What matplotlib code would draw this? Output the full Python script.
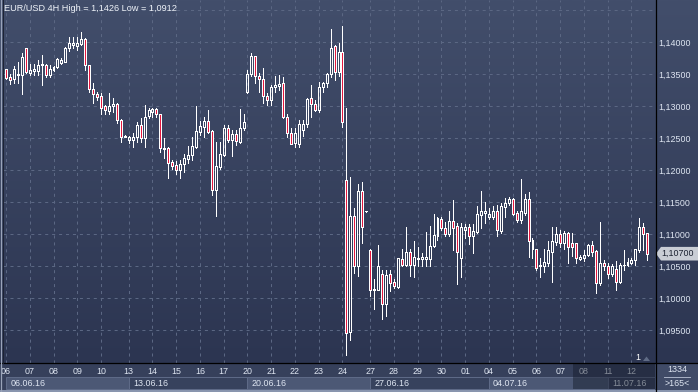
import numpy as np
import matplotlib
matplotlib.use("Agg")
import matplotlib.pyplot as plt
from matplotlib.patches import Rectangle, Polygon
from matplotlib.colors import LinearSegmentedColormap

plt.rcParams['font.family'] = ['Liberation Sans', 'DejaVu Sans']
plt.rcParams['lines.scale_dashes'] = False

# ---------------- data (EUR/USD 4H candles) ----------------
opens = [1.1358, 1.1346, 1.1343, 1.1349, 1.1349, 1.1391, 1.1353, 1.1356, 1.1356, 1.1365,
         1.1365, 1.1349, 1.1357, 1.1361, 1.1368, 1.1370, 1.1392, 1.1396, 1.1395, 1.1398,
         1.1405, 1.1365, 1.1328, 1.1319, 1.1317, 1.1300, 1.1293, 1.1300, 1.1304, 1.1279,
         1.1253, 1.1247, 1.1247, 1.1252, 1.1271, 1.1250, 1.1285, 1.1292, 1.1296, 1.1288,
         1.1234, 1.1235, 1.1213, 1.1209, 1.1201, 1.1210, 1.1218, 1.1224, 1.1237, 1.1260,
         1.1268, 1.1277, 1.1261, 1.1170, 1.1206, 1.1224, 1.1267, 1.1248, 1.1257, 1.1245,
         1.1266, 1.1323, 1.1351, 1.1379, 1.1348, 1.1343, 1.1316, 1.1310, 1.1331, 1.1332,
         1.1336, 1.1284, 1.1258, 1.1243, 1.1242, 1.1263, 1.1273, 1.1313, 1.1304, 1.1295,
         1.1331, 1.1336, 1.1351, 1.1395, 1.1354, 1.1385, 1.1185, 1.0947, 1.1129, 1.1051,
         1.1168, 1.1136, 1.1076, 1.1014, 1.1014, 1.1038, 1.0991, 1.1039, 1.1025, 1.1018,
         1.1062, 1.1052, 1.1073, 1.1052, 1.1064, 1.1061, 1.1061, 1.1061, 1.1082, 1.1098,
         1.1124, 1.1110, 1.1101, 1.1121, 1.1113, 1.1063, 1.1107, 1.1111, 1.1098, 1.1104,
         1.1130, 1.1134, 1.1127, 1.1128, 1.1136, 1.1105, 1.1143, 1.1149, 1.1155, 1.1134,
         1.1123, 1.1134, 1.1155, 1.1091, 1.1077, 1.1050, 1.1051, 1.1056, 1.1073, 1.1089,
         1.1101, 1.1087, 1.1102, 1.1086, 1.1086, 1.1062, 1.1063, 1.1068, 1.1084, 1.1074,
         1.1024, 1.1055, 1.1051, 1.1038, 1.1046, 1.1025, 1.1052, 1.1052, 1.1056, 1.1060,
         1.1076, 1.1112, 1.1102]
highs = [1.1359, 1.1350, 1.1364, 1.1369, 1.1384, 1.1391, 1.1367, 1.1367, 1.1373, 1.1380,
         1.1367, 1.1365, 1.1363, 1.1375, 1.1376, 1.1393, 1.1409, 1.1409, 1.1408, 1.1417,
         1.1407, 1.1365, 1.1336, 1.1323, 1.1321, 1.1302, 1.1321, 1.1313, 1.1306, 1.1280,
         1.1255, 1.1254, 1.1258, 1.1275, 1.1282, 1.1302, 1.1298, 1.1297, 1.1297, 1.1289,
         1.1250, 1.1237, 1.1216, 1.1215, 1.1216, 1.1226, 1.1239, 1.1252, 1.1300, 1.1278,
         1.1284, 1.1295, 1.1263, 1.1245, 1.1245, 1.1271, 1.1271, 1.1263, 1.1263, 1.1296,
         1.1289, 1.1357, 1.1384, 1.1379, 1.1352, 1.1360, 1.1321, 1.1334, 1.1347, 1.1349,
         1.1346, 1.1288, 1.1266, 1.1266, 1.1279, 1.1279, 1.1314, 1.1334, 1.1310, 1.1339,
         1.1339, 1.1353, 1.1421, 1.1396, 1.1399, 1.1426, 1.1297, 1.1190, 1.1142, 1.1179,
         1.1182, 1.1137, 1.1077, 1.1031, 1.1084, 1.1045, 1.1045, 1.1045, 1.1031, 1.1064,
         1.1078, 1.1112, 1.1078, 1.1090, 1.1081, 1.1071, 1.1104, 1.1113, 1.1132, 1.1127,
         1.1127, 1.1120, 1.1136, 1.1154, 1.1118, 1.1118, 1.1116, 1.1116, 1.1116, 1.1145,
         1.1168, 1.1150, 1.1142, 1.1145, 1.1146, 1.1149, 1.1157, 1.1159, 1.1157, 1.1137,
         1.1186, 1.1164, 1.1167, 1.1094, 1.1077, 1.1064, 1.1078, 1.1090, 1.1112, 1.1112,
         1.1107, 1.1106, 1.1104, 1.1102, 1.1087, 1.1068, 1.1075, 1.1085, 1.1090, 1.1076,
         1.1120, 1.1060, 1.1055, 1.1054, 1.1058, 1.1056, 1.1075, 1.1064, 1.1064, 1.1078,
         1.1125, 1.1118, 1.1102]
lows = [1.1343, 1.1335, 1.1336, 1.1336, 1.1320, 1.1353, 1.1349, 1.1349, 1.1349, 1.1334,
        1.1346, 1.1346, 1.1355, 1.1360, 1.1366, 1.1369, 1.1386, 1.1391, 1.1389, 1.1396,
        1.1357, 1.1323, 1.1305, 1.1310, 1.1289, 1.1289, 1.1289, 1.1292, 1.1274, 1.1245,
        1.1252, 1.1243, 1.1237, 1.1245, 1.1245, 1.1237, 1.1282, 1.1284, 1.1284, 1.1229,
        1.1220, 1.1189, 1.1202, 1.1194, 1.1189, 1.1198, 1.1211, 1.1217, 1.1235, 1.1255,
        1.1253, 1.1258, 1.1162, 1.1129, 1.1203, 1.1222, 1.1245, 1.1223, 1.1240, 1.1243,
        1.1263, 1.1321, 1.1347, 1.1336, 1.1323, 1.1305, 1.1302, 1.1302, 1.1323, 1.1325,
        1.1282, 1.1253, 1.1241, 1.1237, 1.1237, 1.1254, 1.1268, 1.1284, 1.1293, 1.1292,
        1.1323, 1.1331, 1.1346, 1.1341, 1.1347, 1.1268, 1.0912, 1.0935, 1.1040, 1.1035,
        1.1086, 1.1135, 1.1004, 1.0984, 1.1013, 1.0968, 1.0972, 1.1011, 1.1017, 1.1017,
        1.1050, 1.1051, 1.1035, 1.1034, 1.1051, 1.1050, 1.1051, 1.1051, 1.1080, 1.1091,
        1.1107, 1.1098, 1.1098, 1.1075, 1.1023, 1.1034, 1.1094, 1.1085, 1.1071, 1.1103,
        1.1110, 1.1118, 1.1124, 1.1124, 1.1098, 1.1102, 1.1128, 1.1146, 1.1130, 1.1120,
        1.1118, 1.1130, 1.1065, 1.1063, 1.1044, 1.1034, 1.1042, 1.1050, 1.1026, 1.1084,
        1.1081, 1.1077, 1.1056, 1.1066, 1.1055, 1.1060, 1.1058, 1.1066, 1.1066, 1.1009,
        1.1021, 1.1044, 1.1032, 1.1035, 1.1014, 1.1024, 1.1044, 1.1050, 1.1054, 1.1052,
        1.1073, 1.1076, 1.1060]
closes = [1.1345, 1.1342, 1.1359, 1.1351, 1.1378, 1.1354, 1.1357, 1.1358, 1.1365, 1.1366,
          1.1349, 1.1358, 1.1361, 1.1374, 1.1372, 1.1392, 1.1399, 1.1399, 1.1399, 1.1405,
          1.1365, 1.1328, 1.1320, 1.1315, 1.1297, 1.1295, 1.1300, 1.1304, 1.1279, 1.1252,
          1.1254, 1.1252, 1.1252, 1.1271, 1.1250, 1.1283, 1.1295, 1.1296, 1.1288, 1.1235,
          1.1235, 1.1212, 1.1207, 1.1201, 1.1210, 1.1219, 1.1224, 1.1238, 1.1261, 1.1270,
          1.1277, 1.1260, 1.1170, 1.1207, 1.1226, 1.1267, 1.1248, 1.1257, 1.1246, 1.1266,
          1.1276, 1.1351, 1.1379, 1.1347, 1.1343, 1.1316, 1.1310, 1.1331, 1.1333, 1.1335,
          1.1284, 1.1258, 1.1242, 1.1258, 1.1273, 1.1273, 1.1311, 1.1304, 1.1295, 1.1331,
          1.1336, 1.1351, 1.1392, 1.1354, 1.1385, 1.1276, 1.0946, 1.1129, 1.1051, 1.1168,
          1.1112, 1.1136, 1.1014, 1.1015, 1.1051, 1.0991, 1.1037, 1.1024, 1.1020, 1.1063,
          1.1052, 1.1073, 1.1052, 1.1065, 1.1061, 1.1065, 1.1065, 1.1082, 1.1099, 1.1125,
          1.1110, 1.1101, 1.1121, 1.1110, 1.1072, 1.1112, 1.1112, 1.1098, 1.1105, 1.1132,
          1.1136, 1.1137, 1.1132, 1.1136, 1.1107, 1.1145, 1.1149, 1.1155, 1.1132, 1.1122,
          1.1136, 1.1155, 1.1090, 1.1077, 1.1047, 1.1052, 1.1057, 1.1075, 1.1090, 1.1101,
          1.1087, 1.1102, 1.1081, 1.1081, 1.1064, 1.1065, 1.1068, 1.1084, 1.1073, 1.1024,
          1.1055, 1.1050, 1.1038, 1.1050, 1.1025, 1.1053, 1.1053, 1.1057, 1.1060, 1.1077,
          1.1112, 1.1101, 1.1070]

day_labels = ['06', '07', '08', '09', '10', '13', '14', '15', '16', '17', '20', '21', '22', '23',
              '24', '27', '28', '29', '30', '01', '04', '05', '06', '07', '08', '11', '12']
day_start = [0, 6, 12, 18, 24, 31, 37, 43, 49, 55, 61, 67, 73, 79, 85, 92, 98, 104, 110, 116,
             122, 128, 134, 140, 146, 152, 158]
week_labels = ['06.06.16', '13.06.16', '20.06.16', '27.06.16', '04.07.16', '11.07.16']
week_start = [0, 31, 61, 92, 122, 152]
price_ticks = [1.095, 1.100, 1.105, 1.110, 1.115, 1.120, 1.125, 1.130, 1.135, 1.140]
extra_grid = [1.145]
title = 'EUR/USD 4H High = 1,1426 Low = 1,0912'
bar_count_top, bar_count_bottom = '1334', '>165<'

# ---------------- layout ----------------
W, H, DPI = 698, 392, 100
PL, PR, PT, PB = 3, 655, 0, 363          # plot area in pixels
FIRST_X, LAST_X = 6.0, 647.3              # pixel centres of first/last candle
Y_TOP_PRICE, PX_PER_UNIT = 1.14664, 6400.0

BG_TOP, BG_BOT = '#424e6b', '#2c3551'
RED = '#e3173e'
TXT = '#dfe6f2'
GRID = '#5b6783'

fig = plt.figure(figsize=(W / DPI, H / DPI), dpi=DPI)
fig.patch.set_facecolor(BG_BOT)

bg = fig.add_axes([0, 0, 1, 1], zorder=-5)
bg.set_xlim(0, W); bg.set_ylim(H, 0); bg.axis('off')
grad = np.linspace(0, 1, 256).reshape(-1, 1)
cmap = LinearSegmentedColormap.from_list('bgc', [BG_TOP, BG_BOT])
bg.imshow(grad, extent=(0, W, PB, 0), cmap=cmap, aspect='auto', interpolation='bilinear')
bg.add_patch(Rectangle((0, PB), W, 27, facecolor='#36405b', edgecolor='none'))

ax = fig.add_axes([PL / W, 1 - PB / H, (PR - PL) / W, (PB - PT) / H])
ax.set_facecolor('none')
n = len(opens)
sp = (LAST_X - FIRST_X) / (n - 1)
ax.set_xlim(-(FIRST_X - PL) / sp, (PR - FIRST_X) / sp)
ax.set_ylim(Y_TOP_PRICE - (PB - PT) / PX_PER_UNIT, Y_TOP_PRICE)
for s in ax.spines.values():
    s.set_visible(False)

ax.set_yticks(price_ticks)
ax.set_yticklabels([f'{v:.5f}'.replace('.', ',') for v in price_ticks])
ax.yaxis.tick_right()
ax.tick_params(axis='y', length=0, pad=2.2, labelsize=6.4, labelcolor=TXT)
ax.set_xticks(day_start)
ax.set_xticklabels(day_labels)
ax.tick_params(axis='x', length=0, pad=2.6, labelsize=6.4, labelcolor=TXT)
ax.grid(True, color=GRID, linestyle=(0, (2.2, 2.8)), linewidth=0.72)
for g in extra_grid:
    ax.axhline(g, color=GRID, linestyle=(0, (2.2, 2.8)), linewidth=0.72)
ax.set_axisbelow(True)

x = np.arange(n)
o = np.array(opens); h = np.array(highs); l = np.array(lows); c = np.array(closes)
top = np.maximum(o, c); bot = np.minimum(o, c)
up = c >= o
ax.vlines(x, top, h, color='white', lw=0.72, antialiased=False, zorder=3)
ax.vlines(x, l, bot, color='white', lw=0.72, antialiased=False, zorder=3)
ax.bar(x[up], (top - bot)[up], bottom=bot[up], width=0.5, facecolor='none',
       edgecolor='white', linewidth=0.72, antialiased=False, zorder=4)
ax.bar(x[~up], (top - bot)[~up], bottom=bot[~up], width=0.5, facecolor=RED,
       edgecolor='white', linewidth=0.72, antialiased=False, zorder=4)

# week labels in date row
for lab, ws in zip(week_labels, week_start):
    ax.annotate(lab, xy=(ws, 0), xycoords=('data', 'axes fraction'), xytext=(3.0, -14.6),
                textcoords='offset points', ha='left', va='center', fontsize=6.4, color=TXT,
                annotation_clip=False)

fig.canvas.draw()
def xpix(i):
    return ax.transData.transform((i, ax.get_ylim()[0]))[0]
def ypix(p):
    return H - ax.transData.transform((0, p))[1]

# date row boxes
edges = [xpix(ws) for ws in week_start] + [PR]
for k in range(len(week_start)):
    fc = '#4c5875' if k % 2 == 0 else '#37425d'
    bg.add_patch(Rectangle((edges[k], 377), edges[k + 1] - edges[k], 12, facecolor=fc,
                           edgecolor='#5f6b88', linewidth=0.7))
bg.add_patch(Rectangle((0, 389.5), W, 3, facecolor='#8995ae', edgecolor='none'))
bg.add_patch(Rectangle((PR, PB), W - PR, 27, facecolor='#404b67', edgecolor='none'))

# overlay elements
ov = fig.add_axes([0, 0, 1, 1], zorder=10)
ov.set_xlim(0, W); ov.set_ylim(H, 0); ov.axis('off'); ov.patch.set_alpha(0)
ov.add_patch(Rectangle((572.5, 364), PR - 572.5, 25, facecolor='#141a28', alpha=0.45,
                       edgecolor='none'))
ov.plot([PR + 0.5, PR + 0.5], [0, H], color='black', lw=0.9)
ov.plot([0, W], [PB, PB], color='black', lw=0.9)
ov.plot([1, 1], [0, H], color='#9aa4b9', lw=0.9)
ov.plot([2.6, 2.6], [0, PB], color='#1c2233', lw=0.7)
ov.text(4, 8, title, fontsize=6.6, color='#eef2f8', ha='left', va='center')

yp = ypix(closes[-1])
ov.add_patch(Polygon([(656, yp), (661, yp - 6.8), (698, yp - 6.8), (698, yp + 6.8), (661, yp + 6.8)],
                     closed=True, facecolor='#c9cdd5', edgecolor='none'))
ov.text(661.5, yp, f'{closes[-1]:.5f}'.replace('.', ','), fontsize=6.4, color='#1b2130',
        ha='left', va='center')

ov.text(637.5, 357.5, '1', fontsize=6.4, color='white', ha='center', va='center')
ov.add_patch(Polygon([(643, 361), (650, 361), (646.5, 356.5)], closed=True,
                     facecolor='#5f6b85', edgecolor='none'))

ov.text(677, 370, bar_count_top, fontsize=6.4, color=TXT, ha='center', va='center')
ov.plot([664, 690], [377, 377], color='#aab3c6', lw=0.7)
ov.text(677, 384, bar_count_bottom, fontsize=6.4, color=TXT, ha='center', va='center')

fig.savefig('out.png', dpi=DPI, facecolor=fig.get_facecolor())
